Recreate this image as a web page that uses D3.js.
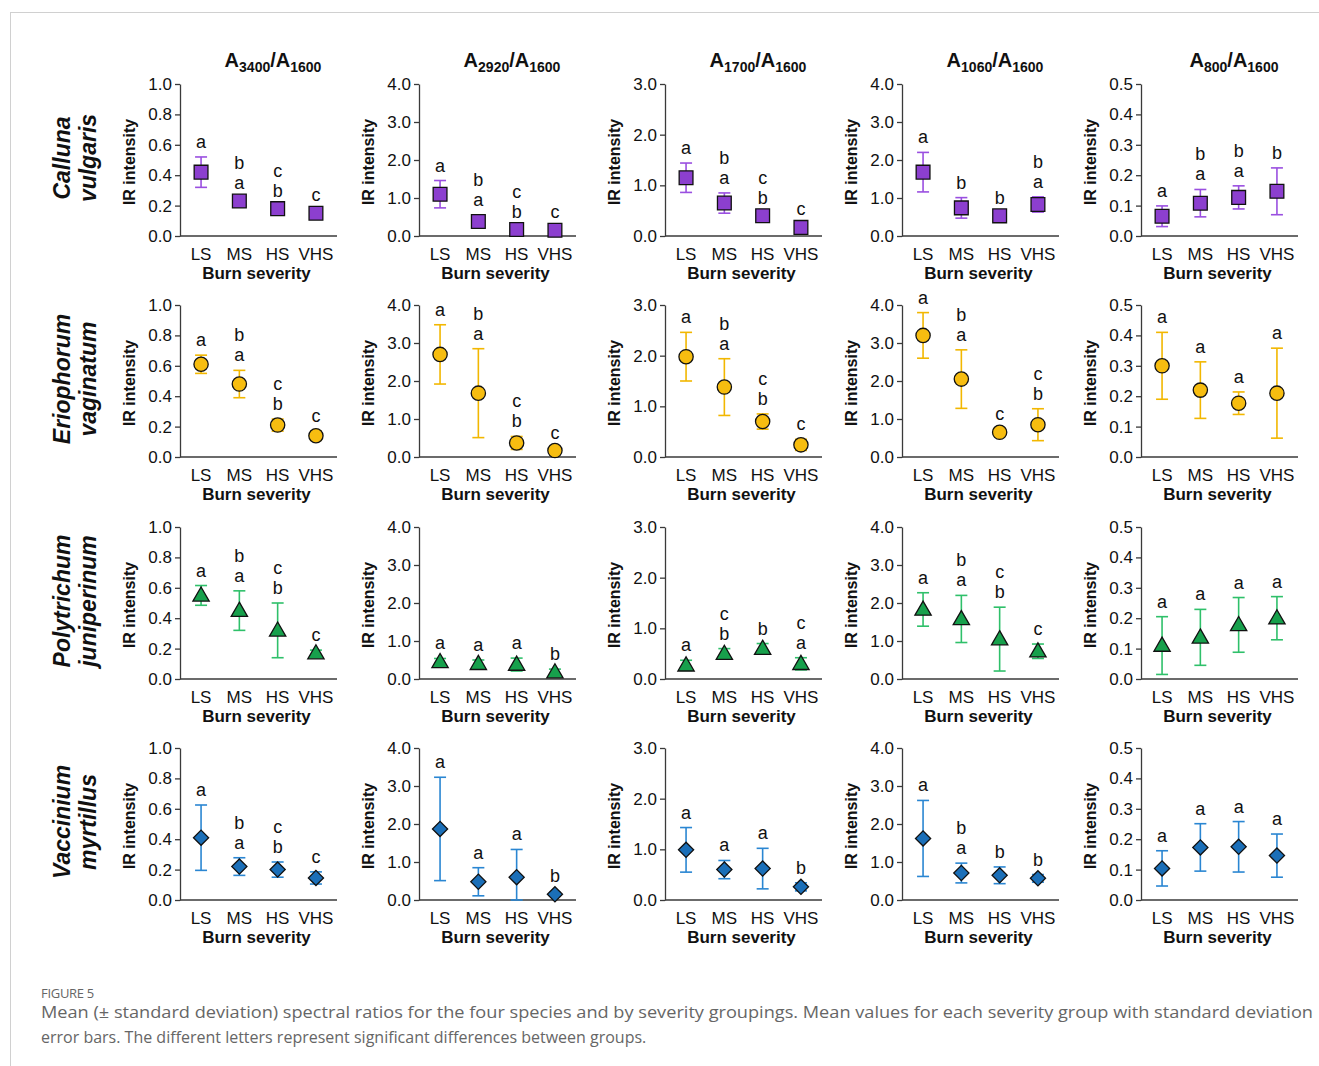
<!DOCTYPE html>
<html>
<head>
<meta charset="utf-8">
<script src="https://cdn.jsdelivr.net/npm/d3@7.9.0/dist/d3.min.js"></script>
<style>
  body { margin: 0; background: #fff; }
  svg text { font-family: "Liberation Sans", Arial, sans-serif; }
  .cap { font-family: "Open Sans", sans-serif; }
</style>
</head>
<body>
<svg id="chart" width="1319" height="1066"></svg>
<script>
// categories
const severities = ["LS", "MS", "HS", "VHS"];
const speciesNames = [["Calluna", "vulgaris"], ["Eriophorum", "vaginatum"], ["Polytrichum", "juniperinum"], ["Vaccinium", "myrtillus"]];
const ratioNums = ["3400", "2920", "1700", "1060", "800"];
const yMaxes = [1.0, 4.0, 3.0, 4.0, 0.5];
const yTickSteps = [0.2, 1.0, 1.0, 1.0, 0.1];

// Calluna vulgaris (one array per ratio column)
const callunaMean = [[0.42, 0.23, 0.18, 0.15], [1.10, 0.38, 0.17, 0.15], [1.15, 0.65, 0.40, 0.17], [1.68, 0.74, 0.53, 0.83], [0.065, 0.108, 0.127, 0.147]];
const callunaSD = [[0.10, 0.02, 0.02, 0.02], [0.36, 0.17, 0.04, 0.04], [0.29, 0.20, 0.05, 0.04], [0.52, 0.27, 0.06, 0.20], [0.034, 0.045, 0.038, 0.077]];
const callunaLetters = [["a", "ab", "bc", "c"], ["a", "ab", "bc", "c"], ["a", "ab", "bc", "c"], ["a", "b", "b", "ab"], ["a", "ab", "ab", "b"]];

// Eriophorum vaginatum
const eriophorumMean = [[0.61, 0.48, 0.21, 0.14], [2.70, 1.68, 0.37, 0.17], [1.98, 1.38, 0.70, 0.24], [3.20, 2.05, 0.65, 0.85], [0.30, 0.22, 0.177, 0.21]];
const eriophorumSD = [[0.06, 0.09, 0.04, 0.03], [0.78, 1.17, 0.17, 0.07], [0.48, 0.56, 0.15, 0.11], [0.60, 0.77, 0.10, 0.42], [0.11, 0.093, 0.037, 0.148]];
const eriophorumLetters = [["a", "ab", "bc", "c"], ["a", "ab", "bc", "c"], ["a", "ab", "bc", "c"], ["a", "ab", "c", "bc"], ["a", "a", "a", "a"]];

// Polytrichum juniperinum
const polytrichumMean = [[0.55, 0.45, 0.32, 0.17], [0.45, 0.40, 0.38, 0.18], [0.27, 0.50, 0.60, 0.30], [1.83, 1.58, 1.05, 0.73], [0.11, 0.137, 0.178, 0.20]];
const polytrichumSD = [[0.065, 0.13, 0.18, 0.02], [0.09, 0.10, 0.17, 0.08], [0.10, 0.10, 0.10, 0.12], [0.44, 0.62, 0.84, 0.19], [0.095, 0.092, 0.09, 0.071]];
const polytrichumLetters = [["a", "ab", "bc", "c"], ["a", "a", "a", "b"], ["a", "bc", "b", "ac"], ["a", "ab", "bc", "c"], ["a", "a", "a", "a"]];

// Vaccinium myrtillus
const vacciniumMean = [[0.41, 0.22, 0.20, 0.145], [1.87, 0.48, 0.60, 0.15], [0.99, 0.60, 0.62, 0.26], [1.62, 0.71, 0.65, 0.57], [0.104, 0.173, 0.175, 0.146]];
const vacciniumSD = [[0.215, 0.058, 0.05, 0.04], [1.36, 0.37, 0.73, 0.05], [0.44, 0.18, 0.40, 0.08], [1.00, 0.26, 0.22, 0.10], [0.058, 0.078, 0.083, 0.071]];
const vacciniumLetters = [["a", "ab", "bc", "c"], ["a", "a", "a", "b"], ["a", "a", "a", "b"], ["a", "ab", "b", "b"], ["a", "a", "a", "a"]];

const allMeans = [callunaMean, eriophorumMean, polytrichumMean, vacciniumMean];
const allSDs = [callunaSD, eriophorumSD, polytrichumSD, vacciniumSD];
const allLetters = [callunaLetters, eriophorumLetters, polytrichumLetters, vacciniumLetters];

const fills = ["#8c3fcf", "#f7bd10", "#17a04c", "#1b6fb8"];
const barColors = ["#9a4fe0", "#f2b700", "#2fc06a", "#2a86d2"];
const symbols = [d3.symbolSquare, d3.symbolCircle, d3.symbolTriangle, d3.symbolSquare];
const symbolSizes = [190, 160, 115, 115];
const symbolRotate = [0, 0, 0, 45];

// layout
const colAxisX = [180, 419, 665, 902, 1141];
const rowTop = [84, 305, 527, 748];
const plotH = 152, plotW = 157;

const svg = d3.select("#chart");

// frame lines
svg.append("line").attr("x1", 10).attr("x2", 1319).attr("y1", 12.5).attr("y2", 12.5).attr("stroke", "#d0d0d0");
svg.append("line").attr("x1", 10.5).attr("x2", 10.5).attr("y1", 12).attr("y2", 1066).attr("stroke", "#d0d0d0");

// column titles
ratioNums.forEach((num, c) => {
  const t = svg.append("text")
    .attr("x", colAxisX[c] + 93).attr("y", 67)
    .attr("text-anchor", "middle")
    .attr("font-size", 20).attr("font-weight", "bold").attr("fill", "#111");
  t.append("tspan").text("A");
  t.append("tspan").text(num).attr("font-size", 14).attr("dy", 5);
  t.append("tspan").text("/A").attr("dy", -5);
  t.append("tspan").text("1600").attr("font-size", 14).attr("dy", 5);
});

// species labels
speciesNames.forEach((lines, r) => {
  const cy = rowTop[r] + 74;
  lines.forEach((ln, i) => {
    svg.append("text")
      .attr("transform", `translate(${70 + i * 26},${cy}) rotate(-90)`)
      .attr("text-anchor", "middle")
      .attr("font-size", 23).attr("font-weight", "bold").attr("font-style", "italic")
      .attr("fill", "#111")
      .text(ln);
  });
});

// panels
for (let r = 0; r < 4; r++) {
  for (let c = 0; c < 5; c++) {
    const x0 = colAxisX[c], y0 = rowTop[r];
    const g = svg.append("g").attr("transform", `translate(${x0},${y0})`);

    const x = d3.scaleBand().domain(severities).range([0, plotW]).paddingInner(0).paddingOuter(0.05);
    const y = d3.scaleLinear().domain([0, yMaxes[c]]).range([plotH, 0]);
    const ticks = d3.range(0, yMaxes[c] + yTickSteps[c] / 2, yTickSteps[c]);

    const yAxis = g.append("g")
      .call(d3.axisLeft(y).tickValues(ticks).tickFormat(d3.format(".1f")).tickSize(5).tickPadding(3).tickSizeOuter(0));
    yAxis.selectAll("text").attr("font-size", 17).attr("fill", "#111").attr("font-family", "Liberation Sans, Arial, sans-serif");
    yAxis.selectAll("line, path").attr("stroke", "#3a3a3a").attr("stroke-width", 1.3);

    const xAxis = g.append("g").attr("transform", `translate(0,${plotH})`)
      .call(d3.axisBottom(x).tickSize(0).tickPadding(12));
    xAxis.select("path").attr("d", `M0,0H${plotW}`).attr("stroke", "#3a3a3a").attr("stroke-width", 1.3);
    xAxis.selectAll("text").attr("font-size", 17).attr("fill", "#111").attr("font-family", "Liberation Sans, Arial, sans-serif");

    g.append("text")
      .attr("x", plotW / 2 - 2).attr("y", plotH + 43)
      .attr("text-anchor", "middle")
      .attr("font-size", 17).attr("font-weight", "bold").attr("fill", "#111")
      .text("Burn severity");

    g.append("text")
      .attr("transform", `translate(-45,${plotH / 2 + 2}) rotate(-90)`)
      .attr("text-anchor", "middle")
      .attr("font-size", 16).attr("font-weight", "bold").attr("fill", "#111")
      .text("IR intensity");

    const pts = severities.map((s, i) => ({
      s, m: allMeans[r][c][i], sd: allSDs[r][c][i], lab: allLetters[r][c][i]
    }));

    const cx = d => x(d.s) + x.bandwidth() / 2;

    // error bars
    const eb = g.selectAll(".eb").data(pts).join("g").attr("stroke", barColors[r]).attr("stroke-width", 1.6);
    eb.append("line")
      .attr("x1", cx).attr("x2", cx)
      .attr("y1", d => y(Math.max(0, d.m - d.sd))).attr("y2", d => y(d.m + d.sd));
    eb.append("line")
      .attr("x1", d => cx(d) - 6).attr("x2", d => cx(d) + 6)
      .attr("y1", d => y(d.m + d.sd)).attr("y2", d => y(d.m + d.sd));
    eb.append("line")
      .attr("x1", d => cx(d) - 6).attr("x2", d => cx(d) + 6)
      .attr("y1", d => y(Math.max(0, d.m - d.sd))).attr("y2", d => y(Math.max(0, d.m - d.sd)));

    // markers
    g.selectAll(".mk").data(pts).join("path")
      .attr("d", d3.symbol().type(symbols[r]).size(symbolSizes[r]))
      .attr("transform", d => `translate(${cx(d)},${y(d.m) + (r === 2 ? 1 : 0)}) rotate(${symbolRotate[r]})`)
      .attr("fill", fills[r]).attr("stroke", "#111").attr("stroke-width", 1.3);

    // significance letters: first letter lowest, next stacked above
    pts.forEach(d => {
      const base = Math.min(y(d.m + d.sd) - 9, y(d.m) - 12);
      d.lab.split("").forEach((ch, k) => {
        g.append("text")
          .attr("x", cx(d)).attr("y", base - k * 20)
          .attr("text-anchor", "middle")
          .attr("font-size", 18).attr("fill", "#111")
          .text(ch);
      });
    });
  }
}

// caption
svg.append("text").attr("class", "cap")
  .attr("x", 41).attr("y", 998)
  .attr("font-size", 13).attr("fill", "#666").attr("letter-spacing", -0.3)
  .text("FIGURE 5");
const capLines = [
  "Mean (\u00B1 standard deviation) spectral ratios for the four species and by severity groupings. Mean values for each severity group with standard deviation",
  "error bars. The different letters represent significant differences between groups."
];
capLines.forEach((ln, i) => {
  svg.append("text").attr("class", "cap")
    .attr("x", 41).attr("y", 1018 + i * 25)
    .attr("font-size", 16).attr("fill", "#666").attr("textLength", i === 0 ? 1272 : null)
    .attr("lengthAdjust", "spacingAndGlyphs")
    .text(ln);
});
</script>
</body>
</html>
